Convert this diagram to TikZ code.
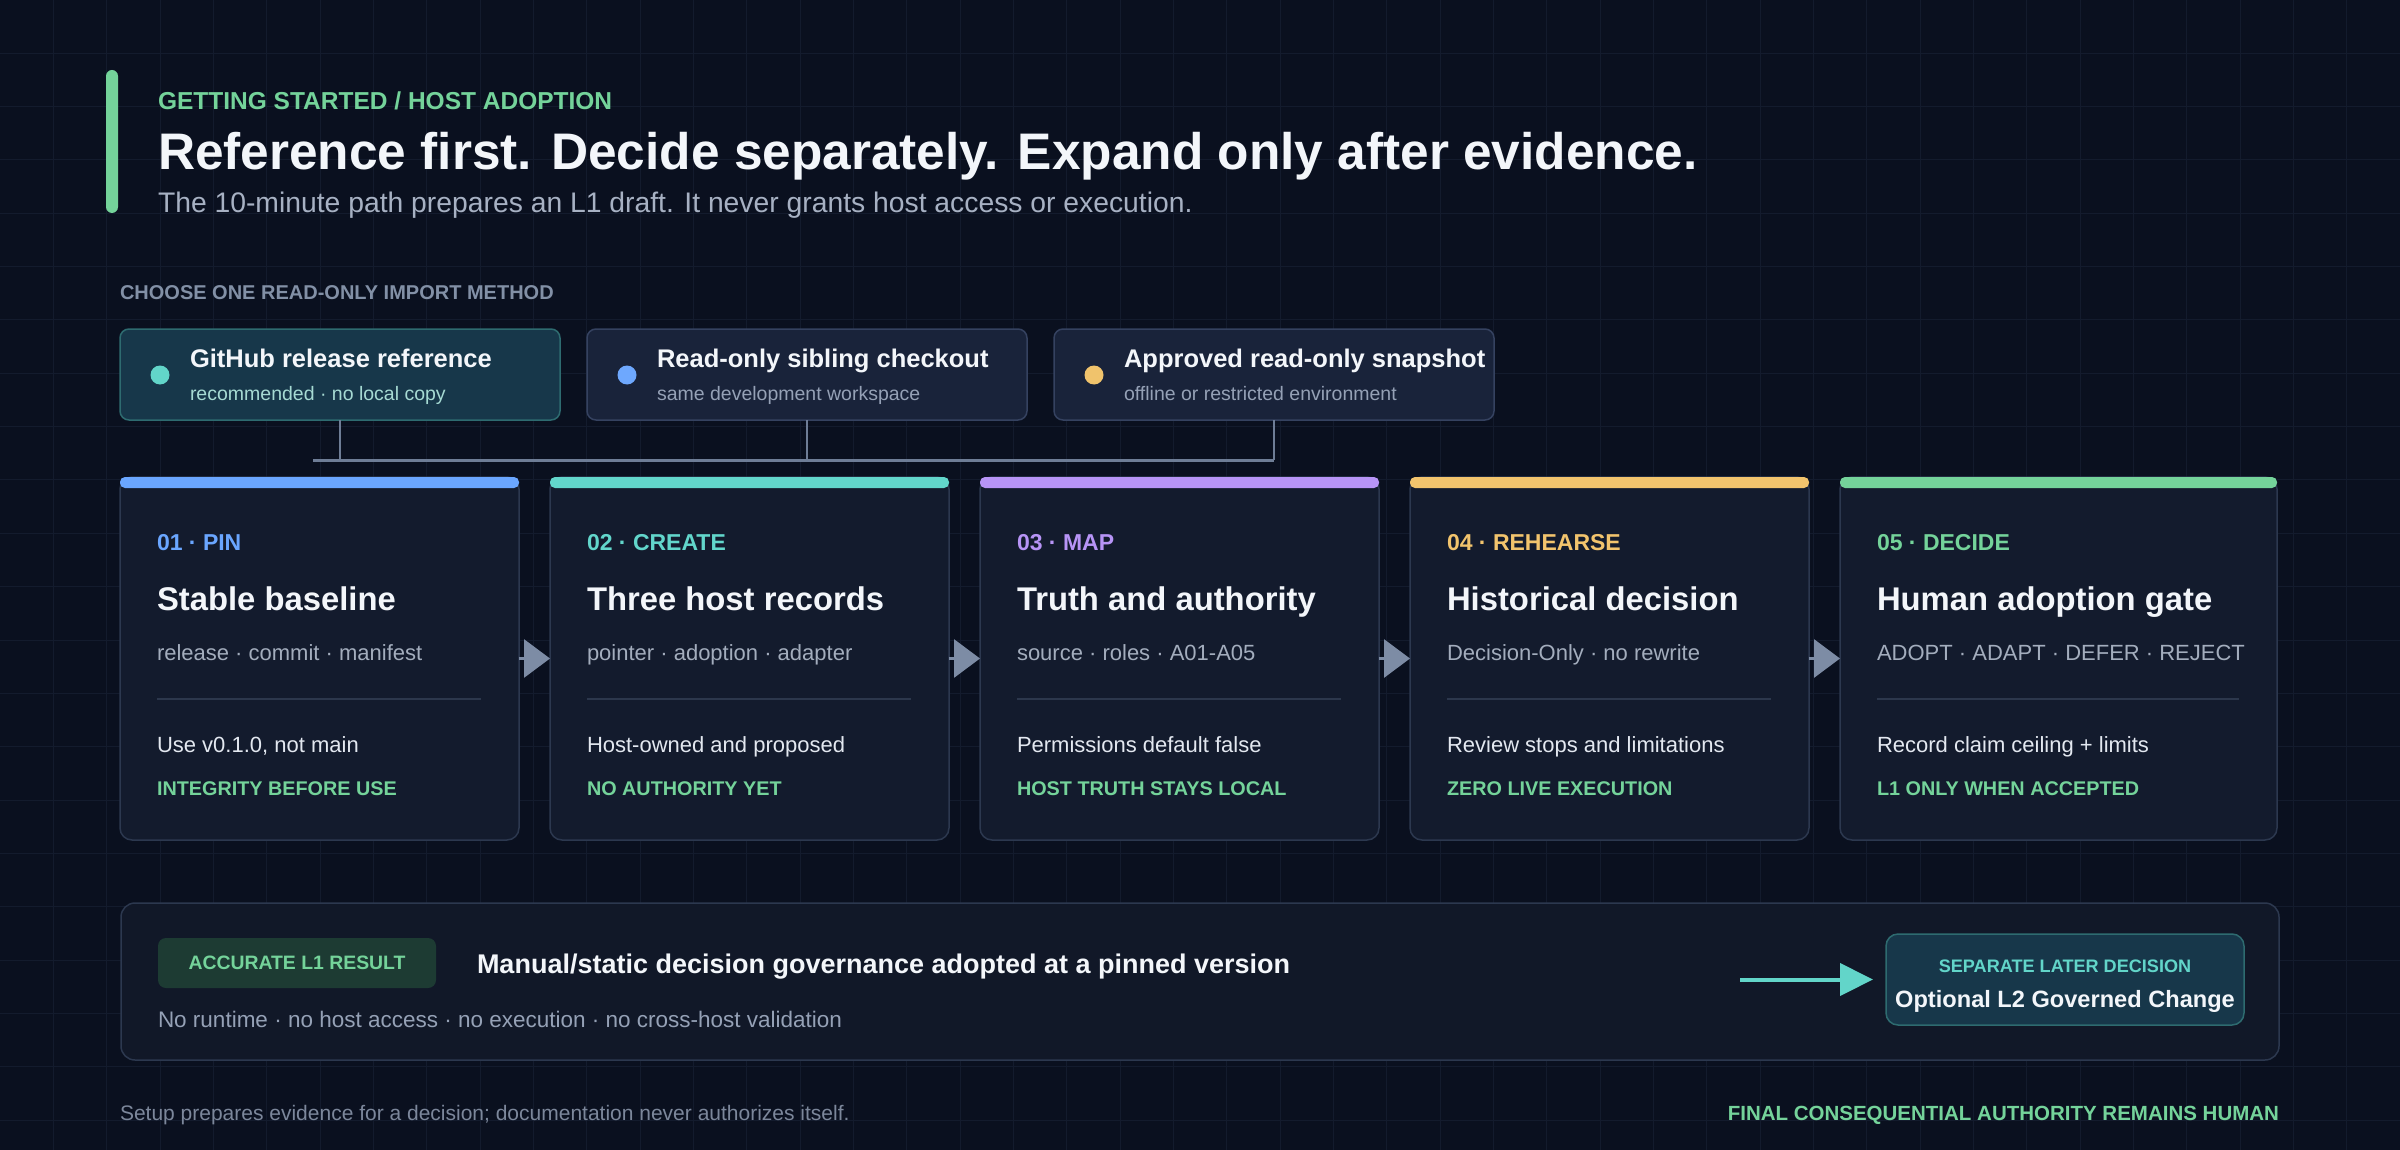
\documentclass[tikz,border=0pt]{standalone}
\usepackage{fontspec}
\setmainfont{Liberation Sans}
\usetikzlibrary{arrows.meta,positioning}

\definecolor{bgnavy}{HTML}{0A101F}
\definecolor{gridnavy}{HTML}{131B2D}
\definecolor{accentgreen}{HTML}{74D39A}
\definecolor{titlewhite}{HTML}{F3F6FA}
\definecolor{subgray}{HTML}{A7B1C3}
\definecolor{labelgray}{HTML}{8290A6}
\definecolor{tealbox}{HTML}{17374A}
\definecolor{tealedge}{HTML}{2E6B70}
\definecolor{slatebox}{HTML}{19233A}
\definecolor{slateedge}{HTML}{354260}
\definecolor{tealsub}{HTML}{A6DAD3}
\definecolor{slatesub}{HTML}{95A1B6}
\definecolor{dotteal}{HTML}{62D5C9}
\definecolor{dotblue}{HTML}{6EA8FE}
\definecolor{dotyellow}{HTML}{F0C36C}
\definecolor{linkgray}{HTML}{6E7D96}
\definecolor{cardfill}{HTML}{131B2D}
\definecolor{cardedge}{HTML}{2C384F}
\definecolor{stepblue}{HTML}{6AA6FF}
\definecolor{stepteal}{HTML}{62D6CB}
\definecolor{steppurple}{HTML}{B794F6}
\definecolor{stepyellow}{HTML}{F2C46D}
\definecolor{stepgreen}{HTML}{74D39A}
\definecolor{stepgray}{HTML}{A3ADBD}
\definecolor{notewhite}{HTML}{E3E8F0}
\definecolor{rulegray}{HTML}{2C374C}
\definecolor{arrowgray}{HTML}{7D8CA5}
\definecolor{panelfill}{HTML}{111828}
\definecolor{badgefill}{HTML}{1D3B33}
\definecolor{footgray}{HTML}{7C879B}

\newcommand{\pxfont}[1]{\fontsize{#1}{#1}\selectfont}

\tikzset{
  every node/.style={inner sep=0pt, outer sep=0pt},
  lbl/.style={anchor=base west},
  gridline/.style={gridnavy, line width=1pt},
  importbox/.style={anchor=north west, rectangle, rounded corners=9pt, line width=1.5pt,
    draw=slateedge, fill=slatebox, minimum width=440pt, minimum height=91pt},
  importdot/.style={circle, minimum size=19pt},
  importhead/.style={lbl, text=titlewhite, font=\pxfont{25.5}\bfseries},
  importsub/.style={lbl, text=slatesub, font=\pxfont{19.5}},
  busline/.style={linkgray, line width=3pt},
  stemline/.style={linkgray, line width=2pt},
  cardbox/.style={anchor=north west, rectangle, rounded corners=12pt, line width=1.5pt,
    draw=cardedge, fill=cardfill, minimum height=363pt},
  steparrow/.style={arrowgray, line width=3pt, -{Triangle[length=26pt,width=38pt]}},
  tealarrow/.style={dotteal, line width=4pt, -{Triangle[length=33pt,width=32pt]}, shorten >=13pt},
}

\begin{document}
\begin{tikzpicture}[x=1pt,y=-1pt]
\useasboundingbox (0,0) rectangle (2400,1150);
\fill[bgnavy] (0,0) rectangle (2400,1150);
\foreach \g in {1,...,44} \draw[gridline] (\g*53.333,0) -- (\g*53.333,1150);
\foreach \g in {1,...,21} \draw[gridline] (0,\g*53.333) -- (2400,\g*53.333);

% header
\fill[accentgreen, rounded corners=6pt] (106,70) rectangle (118,213);
\node[lbl, text=accentgreen, font=\pxfont{24.5}\bfseries] (eyebrow) at (158,110) {GETTING STARTED / HOST ADOPTION};
\node[lbl, text=titlewhite, font=\pxfont{51.4}\bfseries] (headline) at (158,170) {Reference first. Decide separately. Expand only after evidence.};
\node[lbl, text=subgray, font=\pxfont{28.3}] (subline) at (158,213) {The 10-minute path prepares an L1 draft. It never grants host access or execution.};

% import methods
\node[lbl, text=labelgray, font=\pxfont{20}\bfseries] (choose) at (120,299) {CHOOSE ONE READ-ONLY IMPORT METHOD};
\node[importbox, fill=tealbox, draw=tealedge] (imp1) at (120,329) {};
\node[importbox] (imp2) at (587,329) {};
\node[importbox] (imp3) at (1054,329) {};
\node[importdot, fill=dotteal] (dot1) at (160,375) {};
\node[importdot, fill=dotblue] (dot2) at (627,375) {};
\node[importdot, fill=dotyellow] (dot3) at (1094,375) {};
\node[importhead] (imp1t) at (190,367) {GitHub release reference};
\node[importhead] (imp2t) at (657,367) {Read-only sibling checkout};
\node[importhead] (imp3t) at (1124,367) {Approved read-only snapshot};
\node[importsub, text=tealsub] (imp1s) at (190,400) {recommended · no local copy};
\node[importsub] (imp2s) at (657,400) {same development workspace};
\node[importsub] (imp3s) at (1124,400) {offline or restricted environment};

\coordinate (busL) at (313,460);
\draw[busline] (busL) -- (imp3.south |- busL);
\draw[stemline] (imp1.south) -- (imp1.south |- busL);
\draw[stemline] (imp2.south) -- (imp2.south |- busL);
\draw[stemline] (imp3.south) -- (imp3.south |- busL);

% five steps
\foreach \stepid/\stepx/\stepw/\stepcol/\steptag/\stephead/\steptext/\stepnote/\stepflag in {
  1/120/399/stepblue/{01 · PIN}/{Stable baseline}/{release · commit · manifest}/{Use v0.1.0, not main}/{INTEGRITY BEFORE USE},
  2/550/399/stepteal/{02 · CREATE}/{Three host records}/{pointer · adoption · adapter}/{Host-owned and proposed}/{NO AUTHORITY YET},
  3/980/399/steppurple/{03 · MAP}/{Truth and authority}/{source · roles · A01-A05}/{Permissions default false}/{HOST TRUTH STAYS LOCAL},
  4/1410/399/stepyellow/{04 · REHEARSE}/{Historical decision}/{Decision-Only · no rewrite}/{Review stops and limitations}/{ZERO LIVE EXECUTION},
  5/1840/437/stepgreen/{05 · DECIDE}/{Human adoption gate}/{ADOPT · ADAPT · DEFER · REJECT}/{Record claim ceiling + limits}/{L1 ONLY WHEN ACCEPTED}}
{
  \node[cardbox, minimum width=\stepw pt] (card\stepid) at (\stepx,477) {};
  \fill[\stepcol, rounded corners=5pt] (card\stepid.north west) rectangle ([yshift=-11pt]card\stepid.north east);
  \node[lbl, text=\stepcol, font=\pxfont{23}\bfseries] (tag\stepid) at (\stepx+37,550) {\steptag};
  \node[lbl, text=titlewhite, font=\pxfont{32.8}\bfseries] (head\stepid) at (\stepx+37,610) {\stephead};
  \node[lbl, text=stepgray, font=\pxfont{22}] (text\stepid) at (\stepx+37,660) {\steptext};
  \draw[rulegray, line width=1.5pt] (\stepx+37,699) -- (\stepx+\stepw-38,699);
  \node[lbl, text=notewhite, font=\pxfont{22}] (note\stepid) at (\stepx+37,752) {\stepnote};
  \node[lbl, text=accentgreen, font=\pxfont{19.8}\bfseries] (flag\stepid) at (\stepx+37,795) {\stepflag};
}
\foreach \i/\j in {1/2,2/3,3/4,4/5} \draw[steparrow] (card\i.east) -- (card\j.west);

% result
\node[anchor=north west, rectangle, rounded corners=14pt, line width=1.5pt, draw=cardedge, fill=panelfill,
  minimum width=2158pt, minimum height=157pt] (result) at (121,903) {};
\node[rectangle, rounded corners=8pt, fill=badgefill, minimum width=278pt, minimum height=50pt,
  text=accentgreen, font=\pxfont{19.4}\bfseries] (badge) at (297,963) {ACCURATE L1 RESULT};
\node[lbl, text=titlewhite, font=\pxfont{27}\bfseries] (verdict) at (477,973) {Manual/static decision governance adopted at a pinned version};
\node[lbl, text=slatesub, font=\pxfont{22.5}] (limits) at (158,1027) {No runtime · no host access · no execution · no cross-host validation};
\node[rectangle, rounded corners=12pt, line width=1.5pt, draw=tealedge, fill=tealbox,
  minimum width=358pt, minimum height=91pt] (later) at (2065,979.5) {};
\node[anchor=base, text=dotteal, font=\pxfont{18.1}\bfseries] (latertag) at (2065,972) {SEPARATE LATER DECISION};
\node[anchor=base, text=titlewhite, font=\pxfont{23.6}\bfseries] (latername) at (2065,1007) {Optional L2 Governed Change};
\coordinate (laterfrom) at (1740,979.5);
\draw[tealarrow] (laterfrom) -- (later.west);

% footer
\node[lbl, text=footgray, font=\pxfont{21}] (footnote) at (120,1120) {Setup prepares evidence for a decision; documentation never authorizes itself.};
\node[anchor=base east, text=accentgreen, font=\pxfont{20.5}\bfseries] (motto) at (2279,1120) {FINAL CONSEQUENTIAL AUTHORITY REMAINS HUMAN};
\end{tikzpicture}
\end{document}
